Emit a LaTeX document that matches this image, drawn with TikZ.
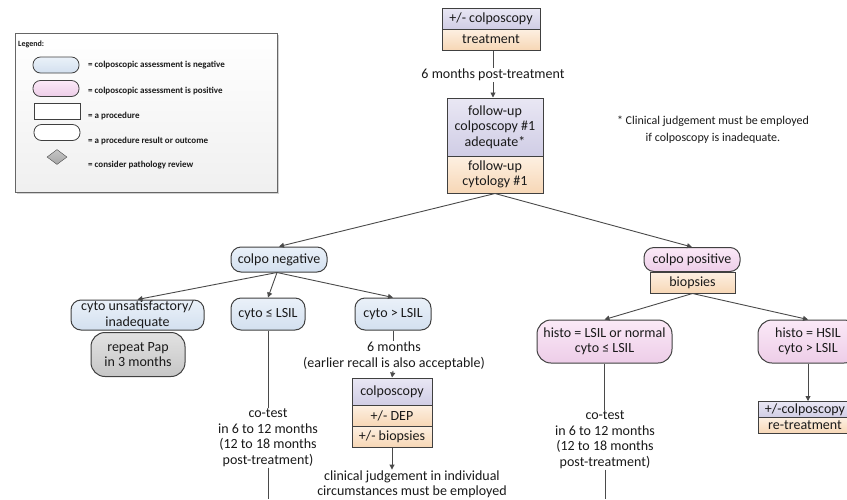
\documentclass[tikz,border=0pt]{standalone}
\usepackage{fontspec}
\setmainfont{Carlito}
\usetikzlibrary{shapes.geometric,arrows.meta,shadows,calc}
\definecolor{bord}{HTML}{404040}
\definecolor{lineC}{HTML}{4A4A4A}
\definecolor{txt}{HTML}{1A1A1A}
\definecolor{bluet}{HTML}{EAF1F9}
\definecolor{blueb}{HTML}{D3E0EF}
\definecolor{pinkt}{HTML}{FBE9F7}
\definecolor{pinkb}{HTML}{EDCDE8}
\definecolor{purt}{HTML}{E9E7F4}
\definecolor{purb}{HTML}{D0CDE5}
\definecolor{orat}{HTML}{FDF0E2}
\definecolor{orab}{HTML}{F7D7B6}
\definecolor{grayt}{HTML}{E2E2E2}
\definecolor{grayb}{HTML}{C6C6C6}
\begin{document}
\begin{tikzpicture}[x=1pt,y=-1pt,
  base/.style={draw=bord, line width=1pt, inner sep=0pt, align=center, text=txt,
    font=\fontsize{14}{15.5}\selectfont},
  pill/.style={base, rounded corners=10pt},
  negpill/.style={pill, top color=bluet, bottom color=blueb},
  pospill/.style={pill, top color=pinkt, bottom color=pinkb},
  graypill/.style={pill, top color=grayt, bottom color=grayb},
  purbox/.style={base, top color=purt, bottom color=purb},
  orabox/.style={base, top color=orat, bottom color=orab},
  lbl/.style={align=center, text=txt, inner sep=1pt, font=\fontsize{14}{15.5}\selectfont},
  conn/.style={draw=lineC, line width=0.9pt},
  arr/.style={conn, -{Triangle[width=5pt,length=5pt]}},
  legtxt/.style={anchor=west, inner sep=0pt, text=txt, font=\fontsize{9}{10}\selectfont\bfseries},
  legpill/.style={draw=bord, line width=0.8pt, rounded corners=7.5pt, minimum width=46pt, minimum height=16pt, inner sep=0pt},
]
\fill[white] (0,0) rectangle (847,499);
\useasboundingbox (0,0) rectangle (847,499);

% ---------- legend ----------
\node[draw=gray!80!black, line width=0.8pt, top color=white, bottom color=gray!12, drop shadow={opacity=0.35, shadow xshift=1.5pt, shadow yshift=-1.5pt},
  minimum width=262pt, minimum height=159pt, inner sep=0pt] (legend) at (146,112.5) {};
\node[anchor=west, inner sep=0pt, text=txt, font=\fontsize{8}{9}\selectfont\bfseries] (legtitle) at (18,44) {Legend:};
\node[legpill, top color=bluet, bottom color=blueb] (lp1) at (56,65) {};
\node[legpill, top color=pinkt, bottom color=pinkb] (lp2) at (56,88.5) {};
\node[draw=bord, line width=0.8pt, fill=white, minimum width=46pt, minimum height=16pt, inner sep=0pt] (lp3) at (57,111) {};
\node[legpill, fill=white] (lp4) at (57,132.5) {};
\node[diamond, draw=gray!60!black, top color=gray!45, bottom color=gray!70, minimum width=20pt, minimum height=15pt, inner sep=0pt] (lp5) at (57,157) {};
\node[legtxt] (lt1) at (88,65) {= colposcopic assessment is negative};
\node[legtxt] (lt2) at (88,91) {= colposcopic assessment is positive};
\node[legtxt] (lt3) at (88,116) {= a procedure};
\node[legtxt] (lt4) at (88,141) {= a procedure result or outcome};
\node[legtxt] (lt5) at (88,165) {= consider pathology review};

% ---------- note ----------
\node[align=center, text=txt, inner sep=0pt, font=\fontsize{12}{17}\selectfont] (note) at (713,130) {* Clinical judgement must be employed\\if colposcopy is inadequate.};

% ---------- top column ----------
\node[purbox, minimum width=98pt, minimum height=21pt] (top1) at (491,18.5) {+/- colposcopy};
\node[orabox, minimum width=98pt, minimum height=21pt] (top2) at (491,39.5) {treatment};
\node[lbl] (post) at (493,75) {6 months post-treatment};
\node[purbox, minimum width=96pt, minimum height=58pt] (fu1) at (495,127) {follow-up\\colposcopy \#1\\adequate*};
\node[orabox, minimum width=96pt, minimum height=37pt] (fu2) at (495,174.5) {follow-up\\cytology \#1};

\draw[conn] (top2.south -| post.north) -- (post.north);
\draw[arr] (post.south) -- (post.south |- fu1.north);

% ---------- negative branch ----------
\node[negpill, minimum width=96pt, minimum height=25pt] (neg) at (279,259.5) {colpo negative};
\node[graypill, minimum width=94pt, minimum height=44pt, rounded corners=14pt] (pap) at (138,354.5) {repeat Pap\\in 3 months};
\node[negpill, minimum width=133pt, minimum height=30pt] (unsat) at (137.5,315) {cyto unsatisfactory/\\inadequate};
\node[negpill, minimum width=74pt, minimum height=32pt] (le) at (268,314) {cyto ≤ LSIL};
\node[negpill, minimum width=76pt, minimum height=32pt] (gt) at (393,314) {cyto > LSIL};

\node[lbl] (cot1) at (268,437.5) {co-test\\in 6 to 12 months\\(12 to 18 months\\post-treatment)};
\coordinate (b1) at (268,499);
\node[lbl] (six) at (394,356) {6 months\\(earlier recall is also acceptable)};
\node[purbox, minimum width=80pt, minimum height=27pt] (cb1) at (392,391.5) {colposcopy};
\node[orabox, minimum width=80pt, minimum height=21pt] (cb2) at (392,415.5) {+/- DEP};
\node[orabox, minimum width=80pt, minimum height=21pt] (cb3) at (392,436.5) {+/- biopsies};
\node[lbl] (clin) at (412,484.5) {clinical judgement in individual\\circumstances must be employed};

% ---------- positive branch ----------
\node[pospill, minimum width=96pt, minimum height=24pt] (pos) at (692,259.5) {colpo positive};
\node[orabox, minimum width=85pt, minimum height=21pt] (biop) at (692.5,282.5) {biopsies};
\node[pospill, minimum width=135pt, minimum height=43pt, rounded corners=14pt] (hl) at (604.5,341.5) {histo = LSIL or normal\\cyto ≤ LSIL};
\node[pospill, minimum width=100pt, minimum height=43pt, rounded corners=14pt] (hh) at (808,341.5) {histo = HSIL\\cyto > LSIL};
\node[lbl] (cot2) at (605,439.5) {co-test\\in 6 to 12 months\\(12 to 18 months\\post-treatment)};
\coordinate (b2) at (605,499);
\node[purbox, minimum width=94pt, minimum height=16pt] (rt1) at (805,409.5) {+/-colposcopy};
\node[orabox, minimum width=94pt, minimum height=16pt] (rt2) at (805,425.5) {re-treatment};

% ---------- connectors ----------
\draw[arr] (fu2.south) -- (neg.north);
\draw[arr] (fu2.south) -- (pos.north);
\draw[arr] ([xshift=-2pt]neg.south) -- (unsat.north);
\draw[arr] ([xshift=-2pt]neg.south) -- (le.north);
\draw[arr] ([xshift=-2pt]neg.south) -- (gt.north);
\draw[conn] (le.south) -- (le.south |- cot1.north);
\draw[conn] (cot1.south) -- (b1);
\draw[conn] (gt.south) -- (gt.south |- six.north);
\draw[arr] (gt.south |- six.south) -- (cb1.north);
\draw[arr] (cb3.south) -- (cb3.south |- clin.north);
\draw[arr] (biop.south) -- (hl.north);
\draw[arr] (biop.south) -- (hh.north);
\draw[conn] (hl.south) -- (hl.south |- cot2.north);
\draw[conn] (cot2.south) -- (b2);
\draw[arr] (hh.south) -- (hh.south |- rt1.north);
\end{tikzpicture}
\end{document}
